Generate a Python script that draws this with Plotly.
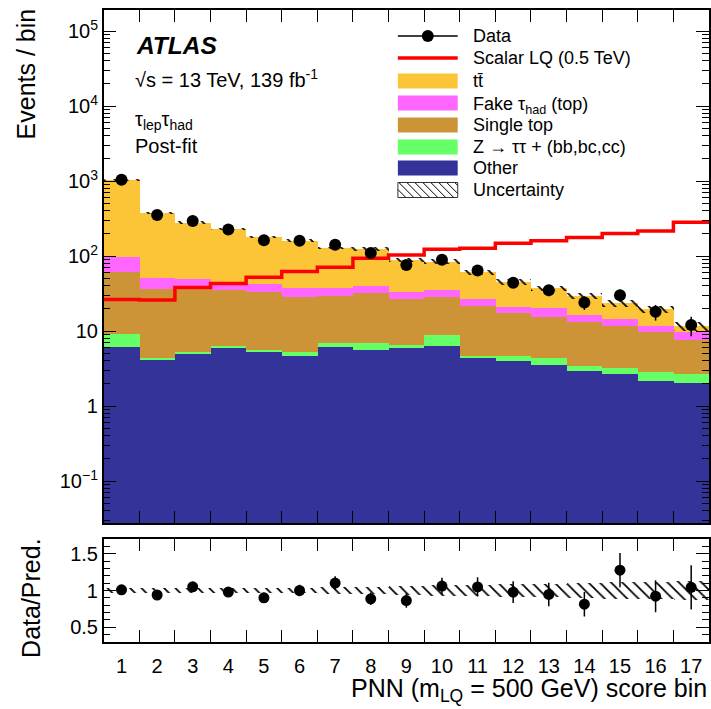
import numpy as np
import plotly.graph_objects as go

# ---------------- data ----------------
bins = list(range(1, 18))
bin_labels = [str(b) for b in bins]

other = [6.2, 4.1, 5.0, 5.9, 5.2, 4.7, 6.1, 5.6, 6.0, 6.4, 4.3, 4.0, 3.5, 2.9, 2.7, 2.15, 2.0]
ztautau = [2.9, 0.2, 0.3, 0.5, 0.4, 0.6, 0.8, 1.3, 0.6, 2.4, 0.3, 0.6, 0.9, 0.5, 0.5, 0.65, 0.7]
single_top = [51.9, 31.7, 32.7, 29.1, 27.4, 23.4, 22.1, 25.1, 19.8, 19.2, 17.2, 12.6, 11.1, 9.6, 8.6, 6.8, 5.0]
fake_tau = [37, 15, 11, 5.5, 9, 8.3, 8, 8, 6.6, 7, 4.6, 3.8, 4.9, 3.3, 2.5, 2.1, 2.1]
ttbar = [932, 324, 229, 189, 138, 123, 91, 84, 55, 49, 34.6, 24, 16.6, 13.2, 9.2, 7.8, 1.7]

data = [1040, 352, 292, 225, 162, 160, 141, 110, 76, 89, 64, 44, 35, 24, 30, 18, 12]
lq_signal = [26.4, 26, 38, 43, 52, 62, 71, 93, 103, 123, 127, 148, 160, 176, 200, 215, 281]
unc_rel = [0.04, 0.04, 0.04, 0.04, 0.04, 0.04, 0.045, 0.05, 0.055, 0.07, 0.08, 0.085,
           0.09, 0.10, 0.11, 0.12, 0.135]

y_tickvals = [0.1, 1, 10, 100, 1e3, 1e4, 1e5]
y_ticktext = ["10<sup>−1</sup>", "1", "10", "10<sup>2</sup>", "10<sup>3</sup>",
              "10<sup>4</sup>", "10<sup>5</sup>"]
r_tickvals = [0.5, 1, 1.5]
r_ticktext = ["0.5", "1", "1.5"]

# ---------------- derived ----------------
x = np.array(bins, dtype=float)
edges = np.arange(0.5, len(bins) + 1.0, 1.0)
COL_OTHER, COL_Z, COL_ST, COL_FAKE, COL_TT = "#333399", "#66FF66", "#CC9436", "#FF66FF", "#FCC537"
components = [
    ("Other", other, COL_OTHER),
    ("Z → ττ + (bb,bc,cc)", ztautau, COL_Z),
    ("Single top", single_top, COL_ST),
    ("Fake τ<sub>had</sub> (top)", fake_tau, COL_FAKE),
    ("tt\u0304", ttbar, COL_TT),
]
cum = np.cumsum([np.array(c[1], dtype=float) for c in components], axis=0)
total = cum[-1]
data_a = np.array(data, dtype=float)
unc = np.array(unc_rel)
ratio = data_a / total
ratio_err = np.sqrt(data_a) / total

FONT = "Liberation Sans, Arial, Helvetica, sans-serif"
fig = go.Figure()

# stacked histograms drawn as overlaid cumulative bars (largest first)
for i in reversed(range(len(components))):
    name, _, color = components[i]
    fig.add_trace(go.Bar(
        x=x, y=cum[i], width=1.0, name=name,
        marker=dict(color=color, line=dict(width=0)),
        xaxis="x", yaxis="y", hoverinfo="skip"))

HATCH = dict(shape="\\", size=8, solidity=0.22, fillmode="replace")
# uncertainty band (main)
fig.add_trace(go.Bar(
    x=x, base=total * (1 - unc), y=2 * total * unc, width=1.0, name="Uncertainty",
    marker=dict(color="black", line=dict(width=0), pattern=HATCH),
    xaxis="x", yaxis="y"))

# signal
fig.add_trace(go.Scatter(
    x=edges, y=list(lq_signal) + [lq_signal[-1]], mode="lines",
    line=dict(color="#FF0000", width=3.5, shape="hv"),
    name="Scalar LQ (0.5 TeV)", xaxis="x", yaxis="y"))

# data
fig.add_trace(go.Scatter(
    x=x, y=data_a, mode="markers", name="Data",
    marker=dict(color="black", size=12),
    error_y=dict(type="data", array=np.sqrt(data_a), color="black", thickness=1.5, width=0),
    xaxis="x", yaxis="y"))

# ratio panel
fig.add_trace(go.Bar(
    x=x, base=1 - unc, y=2 * unc, width=1.0,
    marker=dict(color="black", line=dict(width=0), pattern=HATCH),
    xaxis="x2", yaxis="y2"))
fig.add_trace(go.Scatter(
    x=x, y=ratio, mode="markers",
    marker=dict(color="black", size=11),
    error_y=dict(type="data", array=ratio_err, color="black", thickness=1.5, width=0),
    xaxis="x2", yaxis="y2"))

W, H = 711, 709
def px_x(p):
    return p / W
def px_y(p):
    return 1 - p / H

xdom = [px_x(104), 1.0]
common_x = dict(range=[0.5, 17.5], showline=True, linecolor="black", linewidth=1.5,
                mirror="allticks", showgrid=False, zeroline=False,
                tickvals=bins, ticktext=bin_labels, ticks="",
                minor=dict(tickvals=list(edges[1:-1]), ticks="inside", ticklen=12,
                           tickcolor="black", tickwidth=1.2))

fig.update_layout(
    width=W, height=H, margin=dict(l=0, r=0, t=0, b=0),
    paper_bgcolor="white", plot_bgcolor="white",
    barmode="overlay", bargap=0, showlegend=False,
    font=dict(family=FONT, color="black", size=18),
    xaxis=dict(domain=xdom, anchor="y", showticklabels=False, matches="x2", **common_x),
    xaxis2=dict(domain=xdom, anchor="y2", showticklabels=True,
                tickfont=dict(size=20), ticklabelstandoff=5, **common_x),
    yaxis=dict(domain=[px_y(523), px_y(10)], type="log", range=[-1.56, 5.28],
               tickvals=y_tickvals, ticktext=y_ticktext, ticks="inside", ticklen=13,
               tickcolor="black", tickwidth=1.2, tickfont=dict(size=20),
               showline=True, linecolor="black", linewidth=1.5, mirror="allticks",
               showgrid=False, zeroline=False,
               minor=dict(tickvals=[m * 10.0 ** d for d in range(-2, 6) for m in range(2, 10)],
                          ticks="inside", ticklen=7, tickcolor="black", tickwidth=1.2)),
    yaxis2=dict(domain=[px_y(642), px_y(539)], range=[0.3, 1.7],
                tickvals=r_tickvals, ticktext=r_ticktext, ticks="inside", ticklen=13,
                tickcolor="black", tickwidth=1.2, tickfont=dict(size=20),
                showline=True, linecolor="black", linewidth=1.5, mirror="allticks",
                showgrid=False, zeroline=False,
                minor=dict(tickvals=[round(0.3 + 0.1 * k, 2) for k in range(15)],
                           ticks="inside", ticklen=7, tickcolor="black", tickwidth=1.2)),
)

def add_text(text, px, py, size, xanchor="left", angle=0, yanchor="middle"):
    fig.add_annotation(text=text, x=px_x(px), y=px_y(py), xref="paper", yref="paper",
                       xanchor=xanchor, yanchor=yanchor, textangle=angle, showarrow=False,
                       font=dict(size=size, family=FONT, color="black"))

# ---------------- legend (drawn by hand to match ROOT style) ----------------
LX0, LX1, LTX = 399, 459, 472.5
rows = [36, 58, 81, 103, 125, 147, 168, 190]
leg_labels = ["Data", "Scalar LQ (0.5 TeV)", "tt\u0304", "Fake τ<sub>had</sub> (top)",
              "Single top", "Z → ττ + (bb,bc,cc)", "Other", "Uncertainty"]
shapes = []
def rect(x0, y0, x1, y1, fill, line_w=0, line_c="black"):
    shapes.append(dict(type="rect", xref="paper", yref="paper",
                       x0=px_x(x0), x1=px_x(x1), y0=px_y(y1), y1=px_y(y0),
                       fillcolor=fill, line=dict(width=line_w, color=line_c)))
def seg(x0, y0, x1, y1, color, w):
    shapes.append(dict(type="line", xref="paper", yref="paper",
                       x0=px_x(x0), x1=px_x(x1), y0=px_y(y0), y1=px_y(y1),
                       line=dict(color=color, width=w)))

# Data: line with marker
seg(LX0, rows[0], LX1, rows[0], "black", 1.5)
shapes.append(dict(type="circle", xref="paper", yref="paper",
                   x0=px_x(429 - 6), x1=px_x(429 + 6), y0=px_y(rows[0] + 6), y1=px_y(rows[0] - 6),
                   fillcolor="black", line=dict(width=0)))
# Signal line
seg(LX0, rows[1], LX1, rows[1], "#FF0000", 3.5)
# filled boxes
for r, c in zip(rows[2:7], [COL_TT, COL_FAKE, COL_ST, COL_Z, COL_OTHER]):
    rect(LX0, r - 7.5, LX1, r + 7.5, c)
# uncertainty hatch box
ry0, ry1 = rows[7] - 7.5, rows[7] + 7.5
h = ry1 - ry0
a = LX0 - h
while a < LX1:
    t0 = max(0.0, LX0 - a)
    t1 = min(h, LX1 - a)
    if t1 > t0:
        seg(a + t0, ry0 + t0, a + t1, ry0 + t1, "black", 1)
    a += 8
rect(LX0, ry0, LX1, ry1, "rgba(0,0,0,0)", 1, "#333333")
fig.update_layout(shapes=shapes)

for r, lab in zip(rows, leg_labels):
    add_text(lab, LTX, r + (3 if "<sub>" in lab else 0), 18)

# ---------------- labels ----------------
add_text("<b><i>ATLAS</i></b>", 134, 45, 24.5)
add_text("√s = 13 TeV, 139 fb<sup>-1</sup>", 133, 78, 20)
add_text("τ<sub>lep</sub>τ<sub>had</sub>", 133, 121, 20)
add_text("Post-fit", 133, 146, 20)

add_text("Events / bin", 27, 6, 25, xanchor="center", angle=-90, yanchor="top")
add_text("Data/Pred.", 31, 536, 25, xanchor="center", angle=-90, yanchor="top")
fig.add_annotation(text="PNN (m<sub>LQ</sub> = 500 GeV) score bin", x=1.0, y=px_y(690),
                   xref="paper", yref="paper", xanchor="right", yanchor="middle",
                   showarrow=False, font=dict(size=25, family=FONT, color="black"))

fig.write_html("out.html")
